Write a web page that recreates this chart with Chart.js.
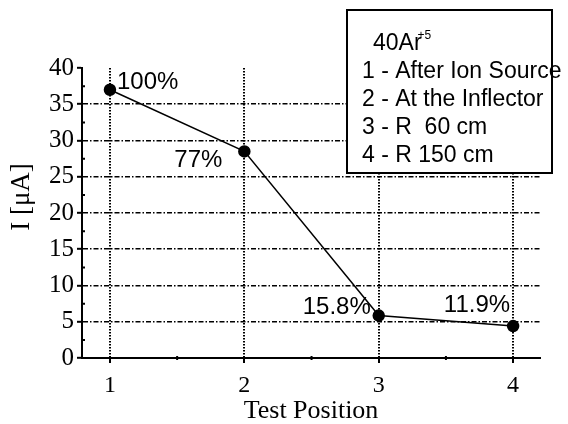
<!DOCTYPE html>
<html>
<head>
<meta charset="utf-8">
<script src="https://cdn.jsdelivr.net/npm/chart.js@4.4.0/dist/chart.umd.min.js"></script>
<style>
  html, body { margin: 0; padding: 0; background: #ffffff; }
</style>
</head>
<body>
<canvas id="chart" width="568" height="424"></canvas>
<script>
// beam current measured along the line
const positions = [1, 2, 3, 4];
const current = [37, 28.5, 5.85, 4.4];
const percentLabels = ["100%", "77%", "15.8%", "11.9%"];

const xTicks = [1, 2, 3, 4];
const xMinorTicks = [1.5, 2.5, 3.5];
const yTicks = [0, 5, 10, 15, 20, 25, 30, 35, 40];
const yMinorTicks = [2.5, 7.5, 12.5, 17.5, 22.5, 27.5, 32.5, 37.5];

const ionName = "40Ar";
const ionCharge = "+5";
const legendLines = [
    "1 - After Ion Source",
    "2 - At the Inflector",
    "3 - R  60 cm",
    "4 - R 150 cm",
];

const serif = "'Liberation Serif', 'Times New Roman', serif";
const sans = "'Liberation Sans', Arial, sans-serif";

// where each percentage sits relative to its point
const labelPlacement = [
    { dx: 7, dy: -7, align: "left" },
    { dx: -22, dy: 9, align: "right" },
    { dx: -8, dy: -8, align: "right" },
    { dx: -3, dy: -21, align: "right" },
];

const extras = {
    id: "extras",
    afterDatasetsDraw(chart) {
        const ctx = chart.ctx;
        const meta = chart.getDatasetMeta(0);
        ctx.save();
        ctx.fillStyle = "#000";
        ctx.font = "24px " + sans;
        ctx.textBaseline = "middle";
        meta.data.forEach((pt, i) => {
            const p = labelPlacement[i];
            ctx.textAlign = p.align;
            ctx.fillText(percentLabels[i], pt.x + p.dx, pt.y + p.dy);
        });
        ctx.restore();
    },
    afterDraw(chart) {
        const ctx = chart.ctx;
        const x = chart.scales.x;
        const y = chart.scales.y;
        ctx.save();
        ctx.strokeStyle = "#000";
        ctx.lineWidth = 2;

        // minor ticks
        ctx.beginPath();
        xMinorTicks.forEach(v => {
            const px = x.getPixelForValue(v);
            ctx.moveTo(px, y.bottom - 2);
            ctx.lineTo(px, y.bottom + 2);
        });
        yMinorTicks.forEach(v => {
            const py = y.getPixelForValue(v);
            ctx.moveTo(x.left, py);
            ctx.lineTo(x.left + 3, py);
        });
        ctx.stroke();

        // y axis title
        ctx.fillStyle = "#000";
        ctx.font = "27px " + serif;
        ctx.textAlign = "center";
        ctx.textBaseline = "middle";
        ctx.translate(22, 197);
        ctx.rotate(-Math.PI / 2);
        ctx.fillText("I [\u03bcA]", 0, 0);
        ctx.setTransform(1, 0, 0, 1, 0, 0);

        // legend box
        ctx.fillStyle = "#fff";
        ctx.fillRect(347, 10, 205, 163);
        ctx.strokeRect(347, 10, 205, 163);

        ctx.fillStyle = "#000";
        ctx.textAlign = "left";
        ctx.textBaseline = "alphabetic";
        ctx.font = "23px " + sans;
        ctx.fillText(ionName, 373, 50);
        const w = ctx.measureText(ionName).width;
        ctx.font = "12px " + sans;
        ctx.fillText(ionCharge, 373 + w - 4, 39);
        ctx.font = "23px " + sans;
        legendLines.forEach((t, i) => {
            ctx.fillText(t, 362, 78 + i * 28);
        });
        ctx.restore();
    },
};

new Chart(document.getElementById("chart"), {
    type: "line",
    data: {
        datasets: [{
            data: positions.map((p, i) => ({ x: p, y: current[i] })),
            borderColor: "#000",
            borderWidth: 1.5,
            pointRadius: 5.5,
            pointBackgroundColor: "#000",
            pointBorderColor: "#000",
            tension: 0,
            clip: false,
        }],
    },
    options: {
        responsive: false,
        animation: false,
        layout: { padding: { left: 0, top: 68, right: 28, bottom: 0 } },
        plugins: {
            legend: { display: false },
            tooltip: { enabled: false },
        },
        scales: {
            x: {
                type: "linear",
                min: 0.792,
                max: 4.2,
                afterBuildTicks: s => { s.ticks = xTicks.map(v => ({ value: v })); },
                afterFit: s => { s.height = 66; },
                grid: {
                    color: "#000",
                    lineWidth: 2,
                    tickLength: 5,
                    tickColor: "#000",
                },
                border: { display: true, color: "#000", width: 2, dash: [1.5, 1.5] },
                ticks: {
                    color: "#000",
                    padding: 11,
                    font: { family: serif, size: 24, lineHeight: 1 },
                    maxRotation: 0,
                },
                title: {
                    display: true,
                    text: "Test Position",
                    color: "#000",
                    font: { family: serif, size: 26, lineHeight: 1 },
                    padding: { top: 0, bottom: 0 },
                },
            },
            y: {
                min: 0,
                max: 40,
                afterBuildTicks: s => { s.ticks = yTicks.map(v => ({ value: v })); },
                afterFit: s => { s.width = 82; },
                grid: {
                    color: c => (c.tick && (c.tick.value === 0 || c.tick.value === 40)) ? "rgba(0,0,0,0)" : "#000",
                    lineWidth: 1.6,
                    tickLength: 5,
                    tickColor: "#000",
                    tickWidth: 2,
                },
                border: { display: true, color: "#000", width: 2, dash: [5, 2, 1.5, 2] },
                ticks: {
                    color: "#000",
                    padding: 3,
                    font: { family: serif, size: 25 },
                },
            },
        },
    },
    plugins: [extras],
});
</script>
</body>
</html>
